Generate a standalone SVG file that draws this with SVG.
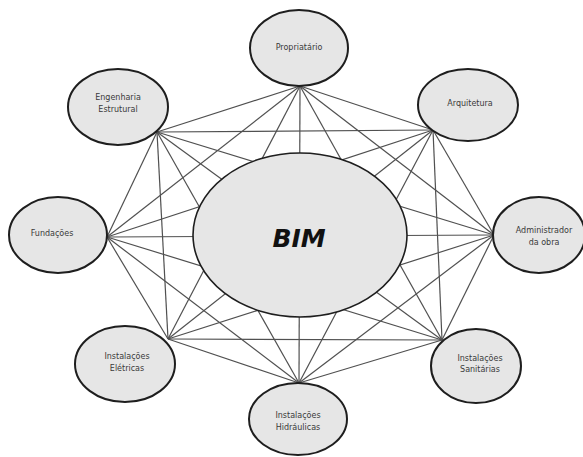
<svg xmlns="http://www.w3.org/2000/svg" width="583" height="457" viewBox="0 0 583 457">
  <style>
    .edge { stroke: #505050; stroke-width: 1.2; fill: none; }
    .node ellipse { fill: #e6e6e6; stroke: #1e1e1e; stroke-width: 2; }
    .node text { font-family: "DejaVu Sans", Verdana, sans-serif; font-size: 8px; fill: #3a3a3a; text-anchor: middle; }
    #bim ellipse { stroke-width: 1.6; }
    #bim text { font-family: "DejaVu Sans", Verdana, sans-serif; font-size: 25px; font-weight: bold; font-style: italic; fill: #111; text-anchor: middle; }
  </style>
  <rect width="583" height="457" fill="#ffffff"/>

  <!-- every outer node is linked with every other one -->
  <g id="connectors">
    <!-- Proprietário -->
    <line class="edge" x1="300" y1="86" x2="433" y2="130"/>
    <line class="edge" x1="300" y1="86" x2="494" y2="235"/>
    <line class="edge" x1="300" y1="86" x2="442" y2="340"/>
    <line class="edge" x1="300" y1="86" x2="299" y2="383"/>
    <line class="edge" x1="300" y1="86" x2="168" y2="339"/>
    <line class="edge" x1="300" y1="86" x2="107" y2="237"/>
    <line class="edge" x1="300" y1="86" x2="157" y2="132"/>
    <!-- Arquitetura -->
    <line class="edge" x1="433" y1="130" x2="494" y2="235"/>
    <line class="edge" x1="433" y1="130" x2="442" y2="340"/>
    <line class="edge" x1="433" y1="130" x2="299" y2="383"/>
    <line class="edge" x1="433" y1="130" x2="168" y2="339"/>
    <line class="edge" x1="433" y1="130" x2="107" y2="237"/>
    <line class="edge" x1="433" y1="130" x2="157" y2="132"/>
    <!-- Administrador da obra -->
    <line class="edge" x1="494" y1="235" x2="442" y2="340"/>
    <line class="edge" x1="494" y1="235" x2="299" y2="383"/>
    <line class="edge" x1="494" y1="235" x2="168" y2="339"/>
    <line class="edge" x1="494" y1="235" x2="107" y2="237"/>
    <line class="edge" x1="494" y1="235" x2="157" y2="132"/>
    <!-- Instalações Sanitárias -->
    <line class="edge" x1="442" y1="340" x2="299" y2="383"/>
    <line class="edge" x1="442" y1="340" x2="168" y2="339"/>
    <line class="edge" x1="442" y1="340" x2="107" y2="237"/>
    <line class="edge" x1="442" y1="340" x2="157" y2="132"/>
    <!-- Instalações Hidráulicas -->
    <line class="edge" x1="299" y1="383" x2="168" y2="339"/>
    <line class="edge" x1="299" y1="383" x2="107" y2="237"/>
    <line class="edge" x1="299" y1="383" x2="157" y2="132"/>
    <!-- Instalações Elétricas -->
    <line class="edge" x1="168" y1="339" x2="107" y2="237"/>
    <line class="edge" x1="168" y1="339" x2="157" y2="132"/>
    <!-- Fundações -->
    <line class="edge" x1="107" y1="237" x2="157" y2="132"/>
  </g>

  <g id="bim" class="node">
    <ellipse cx="300" cy="235" rx="107" ry="82"/>
    <text x="299" y="247">BIM</text>
  </g>

  <g id="proprietario" class="node">
    <ellipse cx="299" cy="48" rx="49" ry="38"/>
    <text x="299" y="50">Propriatário</text>
  </g>

  <g id="arquitetura" class="node">
    <ellipse cx="468" cy="105" rx="50" ry="36"/>
    <text x="470" y="106">Arquitetura</text>
  </g>

  <g id="administrador" class="node">
    <ellipse cx="539" cy="235" rx="46" ry="38"/>
    <text x="544" y="233">Administrador</text>
    <text x="544" y="245">da obra</text>
  </g>

  <g id="sanitarias" class="node">
    <ellipse cx="476" cy="366" rx="45" ry="37"/>
    <text x="480" y="361">Instalações</text>
    <text x="480" y="372">Sanitárias</text>
  </g>

  <g id="hidraulicas" class="node">
    <ellipse cx="298" cy="419" rx="49" ry="36"/>
    <text x="298" y="418">Instalações</text>
    <text x="298" y="430">Hidráulicas</text>
  </g>

  <g id="eletricas" class="node">
    <ellipse cx="125" cy="364" rx="50" ry="38"/>
    <text x="127" y="359">Instalações</text>
    <text x="127" y="371">Elétricas</text>
  </g>

  <g id="fundacoes" class="node">
    <ellipse cx="58" cy="235" rx="49" ry="38"/>
    <text x="52" y="236">Fundações</text>
  </g>

  <g id="engenharia" class="node">
    <ellipse cx="118" cy="107" rx="50" ry="38"/>
    <text x="118" y="100">Engenharia</text>
    <text x="118" y="112">Estrutural</text>
  </g>
</svg>
